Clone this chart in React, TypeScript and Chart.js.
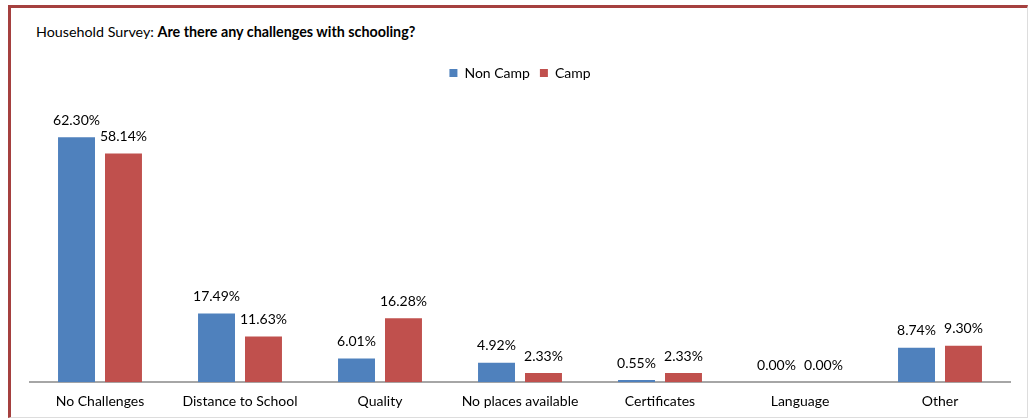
import React, { useEffect, useRef } from "react";
import { Chart, registerables } from "chart.js";

Chart.register(...registerables);

const categories = ["No Challenges", "Distance to School", "Quality", "No places available", "Certificates", "Language", "Other"];
const nonCamp = [62.30, 17.49, 6.01, 4.92, 0.55, 0.00, 8.74];
const camp = [58.14, 11.63, 16.28, 2.33, 2.33, 0.00, 9.30];
const seriesNames = ["Non Camp", "Camp"];

const FONT = "Lato, 'Open Sans', sans-serif";

const valueLabels = {
  id: "valueLabels",
  afterDatasetsDraw(chart: any) {
    const ctx = chart.ctx;
    ctx.save();
    ctx.font = `14px ${FONT}`;
    ctx.fillStyle = "#000";
    ctx.textAlign = "center";
    ctx.textBaseline = "middle";
    chart.data.datasets.forEach((ds: any, i: number) => {
      const meta = chart.getDatasetMeta(i);
      meta.data.forEach((bar: any, j: number) => {
        ctx.fillText(Number(ds.data[j]).toFixed(2) + "%", bar.x, bar.y - 17);
      });
    });
    ctx.restore();
  },
};

export default function App() {
  const ref = useRef<HTMLCanvasElement>(null);
  useEffect(() => {
    document.body.style.margin = "0";
    const chart = new Chart(ref.current!, {
      type: "bar",
      data: {
        labels: categories,
        datasets: [
          { label: seriesNames[0], data: nonCamp, backgroundColor: "#4F81BD", categoryPercentage: 0.671, barPercentage: 0.787 },
          { label: seriesNames[1], data: camp, backgroundColor: "#C0504D", categoryPercentage: 0.671, barPercentage: 0.787 },
        ],
      },
      options: {
        animation: false,
        responsive: false,
        maintainAspectRatio: false,
        layout: { padding: { top: 56, left: 30, right: 19, bottom: 6 } },
        plugins: {
          legend: {
            position: "top",
            labels: { boxWidth: 8, boxHeight: 8, color: "#000", font: { size: 14, family: FONT }, padding: 10 },
          },
          tooltip: { enabled: false },
        },
        scales: {
          x: {
            grid: { display: false },
            border: { color: "#a6a6a6", width: 2 },
            ticks: { color: "#000", font: { size: 14, family: FONT }, padding: 3 },
          },
          y: { display: false, min: 0, max: 74.3 },
        },
      },
      plugins: [valueLabels],
    });
    return () => chart.destroy();
  }, []);
  return (
    <div style={{ position: "absolute", left: 0, top: 0, width: 1029, height: 419, background: "#fff", overflow: "hidden" }}>
      <div style={{ position: "absolute", left: 8, top: 5, width: 1016, height: 409, borderTop: "3px solid #A5403F", borderLeft: "3px solid #A5403F", borderRight: "1px solid #ddd", borderBottom: "1px solid #ddd" }} />
      <div style={{ position: "absolute", left: 36, top: 23, font: `14.3px ${FONT}`, color: "#000", whiteSpace: "nowrap" }}>
        Household Survey: <b>Are there any challenges with schooling?</b>
      </div>
      <canvas ref={ref} width={1029} height={419} style={{ position: "absolute", left: 0, top: 0 }} />
    </div>
  );
}
